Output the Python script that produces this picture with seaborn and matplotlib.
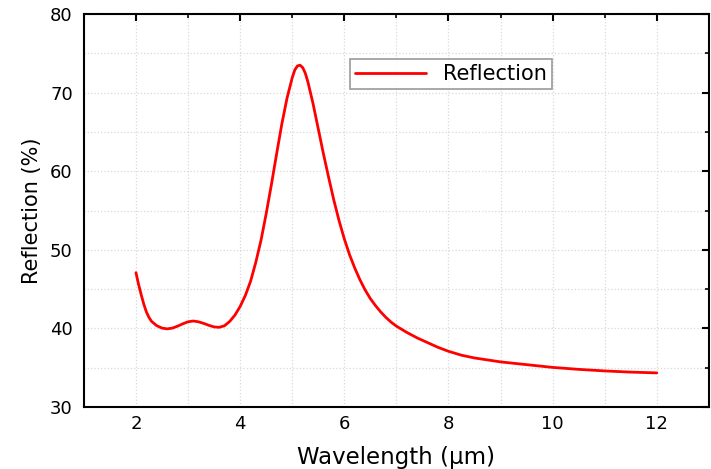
import matplotlib
matplotlib.use("Agg")
import matplotlib.pyplot as plt
from matplotlib.ticker import MultipleLocator
import pandas as pd
import seaborn as sns

# reflection spectrum
wavelength = [2.0, 2.05, 2.1, 2.15, 2.2, 2.25, 2.3, 2.4, 2.5, 2.6,
              2.7, 2.8, 2.9, 3.0, 3.1, 3.2, 3.3, 3.4, 3.5, 3.6,
              3.7, 3.8, 3.9, 4.0, 4.1, 4.2, 4.3, 4.4, 4.5, 4.6,
              4.7, 4.8, 4.9, 5.0, 5.05, 5.1, 5.15, 5.2, 5.25, 5.3,
              5.4, 5.5, 5.6, 5.7, 5.8, 5.9, 6.0, 6.1, 6.2, 6.3,
              6.4, 6.5, 6.6, 6.7, 6.8, 6.9, 7.0, 7.2, 7.4, 7.6,
              7.8, 8.0, 8.25, 8.5, 8.75, 9.0, 9.5, 10.0, 10.5, 11.0,
              11.5, 12.0]
reflection = [47.1, 45.6, 44.3, 43.1, 42.1, 41.4, 40.9, 40.35, 40.05, 39.95,
              40.05, 40.3, 40.6, 40.85, 40.95, 40.85, 40.65, 40.4, 40.2, 40.15,
              40.35, 40.9, 41.7, 42.8, 44.2, 46.0, 48.4, 51.2, 54.6, 58.3,
              62.2, 66.0, 69.3, 71.9, 72.9, 73.4, 73.5, 73.2, 72.5, 71.4,
              68.6, 65.4, 62.2, 59.2, 56.3, 53.7, 51.4, 49.4, 47.7, 46.2,
              44.9, 43.8, 42.9, 42.1, 41.4, 40.8, 40.3, 39.5, 38.8, 38.2,
              37.6, 37.1, 36.6, 36.25, 36.0, 35.75, 35.4, 35.05, 34.8, 34.6,
              34.45, 34.35]

df = pd.DataFrame({"wavelength": wavelength, "reflection": reflection})

sns.set_style("white")
plt.rcParams["font.family"] = ["DejaVu Sans"]
plt.rcParams["text.color"] = "black"
plt.rcParams["axes.labelcolor"] = "black"

fig = plt.figure(figsize=(7.11, 4.69), dpi=100)
ax = fig.add_axes([0.118, 0.132, 0.879, 0.838])

sns.lineplot(data=df, x="wavelength", y="reflection", color="#ff0000",
             linewidth=2, label="Reflection", ax=ax)

ax.set_xlim(1, 13)
ax.set_ylim(30, 80)
ax.xaxis.set_major_locator(MultipleLocator(2))
ax.xaxis.set_minor_locator(MultipleLocator(1))
ax.yaxis.set_major_locator(MultipleLocator(10))
ax.yaxis.set_minor_locator(MultipleLocator(5))

ax.grid(True, which="both", color="#d9d9d9", linestyle=":", linewidth=0.9)
ax.set_axisbelow(True)

for s in ax.spines.values():
    s.set_visible(True)
    s.set_color("black")
    s.set_linewidth(1.5)

ax.tick_params(which="both", direction="in", top=True, right=True,
               labelsize=13, colors="black")
ax.tick_params(which="major", length=5, width=1.5)
ax.tick_params(which="minor", length=3, width=1.2)
ax.tick_params(axis="y", pad=8)
ax.tick_params(axis="x", pad=6)

ax.set_xlabel("Wavelength (\u03bcm)", fontsize=16.5, labelpad=9)
ax.set_ylabel("Reflection (%)", fontsize=15, labelpad=6)

leg = ax.legend(loc="center", bbox_to_anchor=(0.587, 0.847), fontsize=15,
                frameon=True, fancybox=False, handlelength=3.4,
                borderpad=0.25, edgecolor="#808080")
leg.get_frame().set_linewidth(1.2)

fig.savefig("out.png", dpi=100)
